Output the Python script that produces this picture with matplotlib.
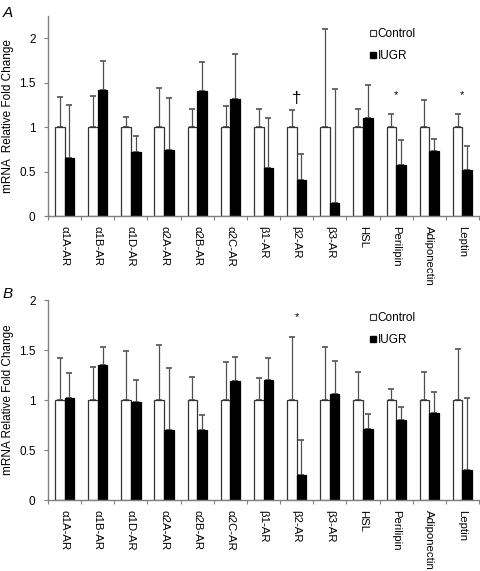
import numpy as np
import matplotlib
matplotlib.use("Agg")
import matplotlib.pyplot as plt
from matplotlib.lines import Line2D

plt.rcParams['font.family'] = ['Liberation Sans', 'DejaVu Sans']

genes = ['α1A-AR', 'α1B-AR', 'α1D-AR', 'α2A-AR', 'α2B-AR', 'α2C-AR', 'β1-AR',
         'β2-AR', 'β3-AR', 'HSL', 'Perilipin', 'Adiponectin', 'Leptin']

# panel A
ctrl_a = [1, 1, 1, 1, 1, 1, 1, 1, 1, 1, 1, 1, 1]
ctrl_a_top = [1.34, 1.35, 1.12, 1.44, 1.20, 1.24, 1.20, 1.19, 2.10, 1.20, 1.15, 1.31, 1.15]
iugr_a = [0.65, 1.42, 0.72, 0.74, 1.41, 1.32, 0.54, 0.41, 0.15, 1.10, 0.57, 0.73, 0.52]
iugr_a_top = [1.245, 1.74, 0.90, 1.33, 1.73, 1.82, 1.10, 0.70, 1.43, 1.47, 0.86, 0.87, 0.79]
marks_a = {7: ('†', 1.32), 10: ('*', 1.36), 12: ('*', 1.36)}

# panel B
ctrl_b = [1, 1, 1, 1, 1, 1, 1, 1, 1, 1, 1, 1, 1]
ctrl_b_top = [1.42, 1.33, 1.49, 1.55, 1.23, 1.38, 1.22, 1.63, 1.53, 1.28, 1.11, 1.28, 1.51]
iugr_b = [1.02, 1.35, 0.98, 0.70, 0.70, 1.19, 1.20, 0.25, 1.06, 0.71, 0.80, 0.87, 0.30]
iugr_b_top = [1.27, 1.53, 1.20, 1.32, 0.85, 1.43, 1.42, 0.60, 1.39, 0.86, 0.93, 1.08, 1.02]
marks_b = {7: ('*', 1.83)}

gray = '#808080'
errc = '#505050'
w = 0.29


def panel(ax, ctrl, ctrl_top, iugr, iugr_top, marks, ymax, ylabel):
    x = np.arange(len(genes))
    ax.bar(x - w / 2, ctrl, w, color='white', edgecolor='#333333', linewidth=0.9, zorder=2)
    ax.bar(x + w / 2, iugr, w, color='black', edgecolor='black', linewidth=0.9, zorder=2)
    ax.errorbar(x - w / 2, ctrl, yerr=[np.zeros(len(x)), np.array(ctrl_top) - np.array(ctrl)],
                fmt='none', ecolor=errc, elinewidth=0.9, capsize=2, capthick=1.2, zorder=1)
    ax.errorbar(x + w / 2, iugr, yerr=[np.zeros(len(x)), np.array(iugr_top) - np.array(iugr)],
                fmt='none', ecolor=errc, elinewidth=0.9, capsize=2, capthick=1.2, zorder=1)
    for i, (s, yv) in marks.items():
        ax.text(i, yv, s, ha='center', va='center', fontsize=8 if s == '*' else 12)
    ax.set_xlim(-0.5, len(genes) - 0.5)
    ax.set_ylim(0, ymax)
    ax.set_yticks([0, 0.5, 1, 1.5, 2])
    ax.set_yticklabels(['0', '0.5', '1', '1.5', '2'], fontsize=8.5)
    ax.set_xticks(x)
    ax.set_xticklabels(genes, rotation=-90, fontsize=8.2, va='top')
    ax.set_xticks(np.arange(len(genes) + 1) - 0.5, minor=True)
    ax.tick_params(axis='x', which='major', length=0, pad=7)
    ax.tick_params(axis='x', which='minor', length=3, color=gray, width=0.8)
    ax.tick_params(axis='y', length=3, color=gray, width=0.8, pad=6)
    for sp in ['top', 'right']:
        ax.spines[sp].set_visible(False)
    for sp in ['left', 'bottom']:
        ax.spines[sp].set_color(gray)
        ax.spines[sp].set_linewidth(1.0)
    ax.set_ylabel(ylabel, fontsize=8.5)
    ax.yaxis.set_label_coords(-0.079, 0.5)
    handles = [Line2D([], [], marker='s', ls='none', markersize=5, markerfacecolor='white',
                      markeredgecolor='#333333', markeredgewidth=0.8),
               Line2D([], [], marker='s', ls='none', markersize=5, markerfacecolor='black',
                      markeredgecolor='black')]
    ax.legend(handles, ['Control', 'IUGR'], loc='upper left', bbox_to_anchor=(0.735, 0.965),
              frameon=False, fontsize=8.5, handlelength=0.6, handletextpad=0.1,
              labelspacing=0.85, borderaxespad=0)


fig = plt.figure(figsize=(4.8, 5.71), dpi=100)
ax1 = fig.add_axes([0.1, 0.6217, 0.898, 0.350])
ax2 = fig.add_axes([0.1, 0.1243, 0.898, 0.350])
panel(ax1, ctrl_a, ctrl_a_top, iugr_a, iugr_a_top, marks_a, 2.25, 'mRNA  Relative Fold Change')
panel(ax2, ctrl_b, ctrl_b_top, iugr_b, iugr_b_top, marks_b, 2.0, 'mRNA Relative Fold Change')
fig.text(0.005, 0.99, 'A', fontsize=11, style='italic', va='top')
fig.text(0.005, 0.497, 'B', fontsize=11, style='italic', va='top')

fig.savefig('out.png', dpi=100)
